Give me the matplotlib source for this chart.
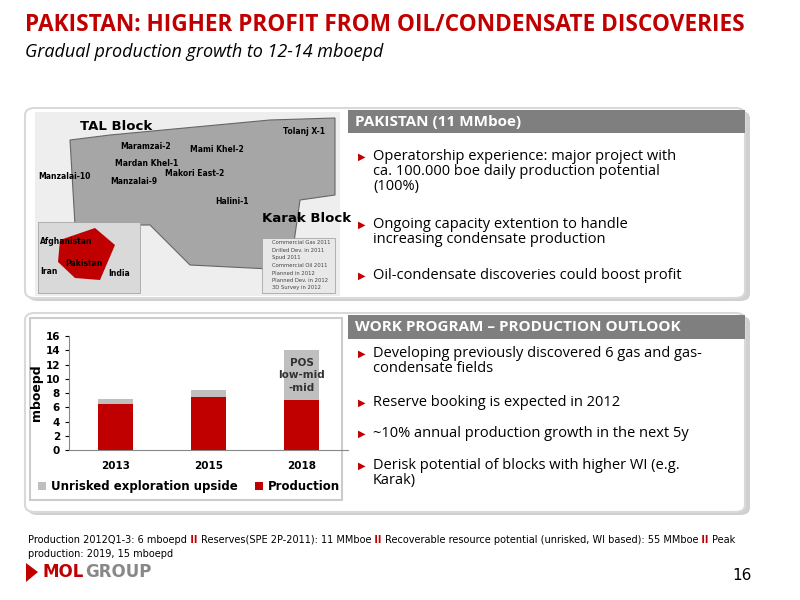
import matplotlib
matplotlib.use("Agg")
import matplotlib.pyplot as plt
from matplotlib.patches import FancyBboxPatch, Rectangle, Polygon

years = ["2013", "2015", "2018"]
production = [6.5, 7.4, 7.0]
upside = [0.6, 1.0, 7.0]
yticks = [0, 2, 4, 6, 8, 10, 12, 14, 16]

RED = "#c00000"
GRAY = "#bfbfbf"

fig = plt.figure(figsize=(8, 6), dpi=100)
fig.patch.set_facecolor("white")

def fx(x): return x / 800
def fy(y): return 1 - y / 600

def box(x0, y0, x1, y1, **kw):
    p = FancyBboxPatch((fx(x0), fy(y1)), fx(x1) - fx(x0), fy(y0) - fy(y1),
                       boxstyle="round,pad=0,rounding_size=0.012", transform=fig.transFigure, **kw)
    fig.add_artist(p)

def rect(x0, y0, x1, y1, **kw):
    fig.add_artist(Rectangle((fx(x0), fy(y1)), fx(x1) - fx(x0), fy(y0) - fy(y1),
                             transform=fig.transFigure, **kw))

fig.text(fx(25), fy(25), "PAKISTAN: HIGHER PROFIT FROM OIL/CONDENSATE DISCOVERIES",
         color=RED, fontsize=16.3, fontweight="bold", va="center", family="Open Sans")
fig.text(fx(25), fy(52), "Gradual production growth to 12-14 mboepd",
         color="black", fontsize=13, style="italic", va="center", family="Open Sans")

for (y0, y1) in [(108, 298), (313, 512)]:
    box(28, y0 + 3, 750, y1 + 3, facecolor="#d0d0d0", edgecolor="none")
    box(25, y0, 745, y1, facecolor="white", edgecolor="#d9d9d9", lw=1.5)

rect(348, 110, 745, 133, facecolor="#7f7f7f", edgecolor="none")
fig.text(fx(355), fy(122), "PAKISTAN (11 MMboe)", color="white", fontweight="bold",
         fontsize=11, va="center", family="Open Sans")
rect(348, 315, 745, 339, facecolor="#7f7f7f", edgecolor="none")
fig.text(fx(355), fy(327), "WORK PROGRAM \u2013 PRODUCTION OUTLOOK", color="white",
         fontweight="bold", fontsize=11, va="center", family="Open Sans")

def bullets(items, x, ys):
    for t, y in zip(items, ys):
        fig.text(fx(x), fy(y), "\u25B6", color=RED, fontsize=7, va="top", family="DejaVu Sans")
        fig.text(fx(x + 15), fy(y - 3), t, fontsize=10.5, va="top", family="Open Sans",
                 linespacing=1.0)

bullets(["Operatorship experience: major project with\nca. 100.000 boe daily production potential\n(100%)",
         "Ongoing capacity extention to handle\nincreasing condensate production",
         "Oil-condensate discoveries could boost profit"],
        358, [152, 220, 271])
bullets(["Developing previously discovered 6 gas and gas-\ncondensate fields",
         "Reserve booking is expected in 2012",
         "~10% annual production growth in the next 5y",
         "Derisk potential of blocks with higher WI (e.g.\nKarak)"],
        358, [349, 398, 429, 461])

# map placeholder
rect(35, 112, 340, 296, facecolor="#eeeeee", edgecolor="none")
fig.add_artist(Polygon([(fx(x), fy(y)) for x, y in
    [(110, 135), (270, 120), (335, 118), (335, 195), (300, 200), (290, 270), (190, 265),
     (150, 225), (75, 225), (70, 140)]], closed=True, transform=fig.transFigure,
    facecolor="#a6a6a6", edgecolor="#666666", lw=0.8))
rect(38, 222, 140, 293, facecolor="#d9d9d9", edgecolor="#999999", lw=0.5)
fig.add_artist(Polygon([(fx(x), fy(y)) for x, y in
    [(60, 240), (95, 228), (115, 245), (100, 280), (75, 278), (58, 262)]], closed=True,
    transform=fig.transFigure, facecolor=RED, edgecolor="none"))
fig.text(fx(80), fy(127), "TAL Block", fontsize=9.5, fontweight="bold", va="center")
fig.text(fx(262), fy(218), "Karak Block", fontsize=9.5, fontweight="bold", va="center")
for t, x, y in [("Maramzai-2", 120, 146), ("Mami Khel-2", 190, 150), ("Mardan Khel-1", 115, 164),
                ("Makori East-2", 165, 173), ("Manzalai-10", 38, 177), ("Manzalai-9", 110, 182),
                ("Halini-1", 215, 202), ("Tolanj X-1", 283, 132), ("Afghanistan", 40, 242),
                ("Pakistan", 65, 264), ("Iran", 40, 272), ("India", 108, 274)]:
    fig.text(fx(x), fy(y), t, fontsize=5.5, fontweight="bold", va="center")
rect(262, 238, 335, 293, facecolor="#e8e8e8", edgecolor="#999999", lw=0.5)
for i, t in enumerate(["Commercial Gas 2011", "Drilled Dev. in 2011", "Spud 2011", "Commercial Oil 2011",
                       "Planned in 2012", "Planned Dev. in 2012", "3D Survey in 2012"]):
    fig.text(fx(272), fy(243 + i * 7.5), t, fontsize=3.8, color="#444444", va="center")

# chart frame
rect(30, 318, 342, 500, facecolor="none", edgecolor="#cccccc", lw=1.5)
ax = fig.add_axes([fx(69), fy(450), fx(348) - fx(69), fy(336) - fy(450)])
ax.set_zorder(5)
ax.patch.set_alpha(0)
x = range(len(years))
ax.bar(x, production, width=0.38, color=RED, label="Production", zorder=2)
ax.bar(x, upside, width=0.38, bottom=production, color=GRAY,
       label="Unrisked exploration upside", zorder=2)
ax.set_ylim(0, 16)
ax.set_xlim(-0.5, 2.5)
ax.set_yticks(yticks)
ax.set_xticks(list(x))
ax.set_xticklabels(years)
for lab in ax.get_xticklabels() + ax.get_yticklabels():
    lab.set_fontweight("bold")
    lab.set_fontsize(7.5)
ax.tick_params(axis="x", length=0, pad=8)
ax.tick_params(axis="y", length=3)
for s in ["top", "right"]:
    ax.spines[s].set_visible(False)
ax.spines["left"].set_color("#888888")
ax.spines["bottom"].set_color("#888888")
ax.set_ylabel("mboepd", fontsize=9, fontweight="bold", labelpad=2)
ax.text(2, 10.5, "POS\nlow-mid\n-mid", ha="center", va="center", fontsize=7.5,
        fontweight="bold", color="#333333", linespacing=1.3)
h, l = ax.get_legend_handles_labels()
ax.legend(h[::-1], l[::-1], loc="center", bbox_to_anchor=(0.43, -0.32), ncol=2,
          frameon=False, prop={"weight": "bold", "size": 8.5},
          handlelength=0.7, handleheight=0.7, handletextpad=0.4, columnspacing=1.5)

# footer
foot = [("Production 2012Q1-3: 6 mboepd", "black"), (" II ", RED),
        ("Reserves(SPE 2P-2011): 11 MMboe", "black"), (" II ", RED),
        ("Recoverable resource potential (unrisked, WI based): 55 MMboe", "black"), (" II ", RED),
        ("Peak", "black")]
fig.canvas.draw()
r = fig.canvas.get_renderer()
xx = fx(28)
for s, c in foot:
    tt = fig.text(xx, fy(540), s, fontsize=7, color=c, va="center", family="Liberation Sans Narrow",
                  fontweight="bold" if c == RED else "normal")
    bb = tt.get_window_extent(r)
    xx += bb.width / fig.bbox.width
fig.text(fx(28), fy(554), "production: 2019, 15 mboepd", fontsize=7, va="center",
         family="Liberation Sans Narrow")
fig.add_artist(Polygon([(fx(26), fy(563)), (fx(26), fy(582)), (fx(38), fy(572))], closed=True,
                       transform=fig.transFigure, facecolor=RED, edgecolor="none"))
m = fig.text(fx(42), fy(572), "MOL", color=RED, fontsize=12, fontweight="bold", va="center")
mw = m.get_window_extent(r).width / fig.bbox.width
fig.text(fx(42) + mw + 0.002, fy(572), "GROUP", color="#888888", fontsize=12,
         fontweight="bold", va="center")
fig.text(fx(752), fy(576), "16", fontsize=11, va="center", ha="right")

fig.savefig("out.png", dpi=100)
